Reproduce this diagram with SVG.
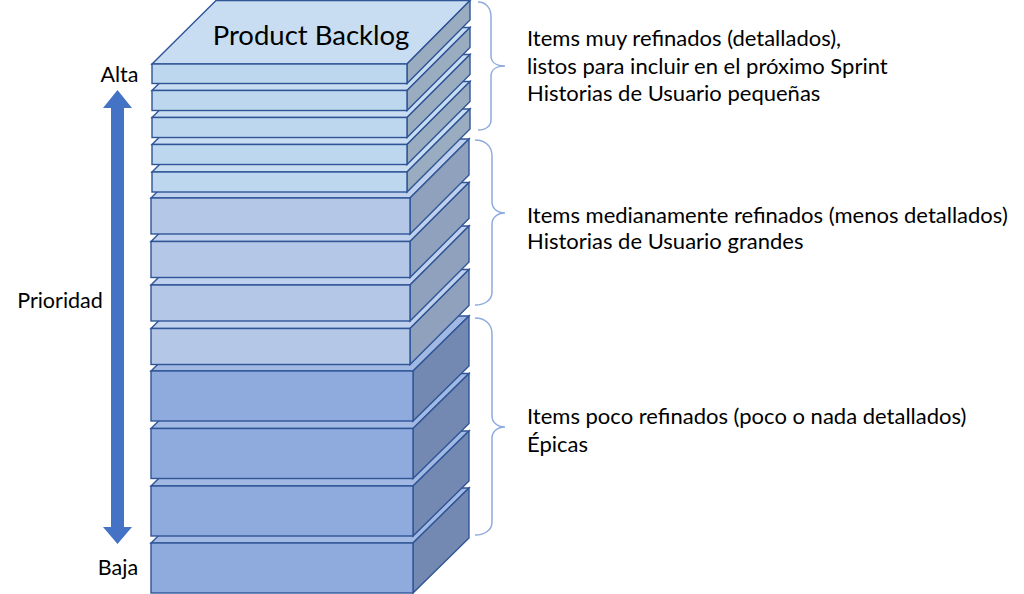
<svg xmlns="http://www.w3.org/2000/svg" width="1024" height="594" viewBox="0 0 1024 594">
<style>
.s{stroke:#2f5597;stroke-width:1.4;stroke-linejoin:miter}
.f1{fill:#bdd7ee}.t1{fill:#c8ddf2}.r1{fill:#9aacbf}
.f2{fill:#b4c7e7}.t2{fill:#c0d1ee}.r2{fill:#8fa1bc}
.f3{fill:#8faadc}.t3{fill:#a2b9e4}.r3{fill:#7489b2}
.br{fill:none;stroke:#8faadc;stroke-width:1.5}
text{font-family:Lato,"Liberation Sans",sans-serif;fill:#000}
.lbl{font-size:22px}
.side{font-size:21.5px}
</style>
<rect width="1024" height="594" fill="#fff"/>
<g id="stack">
<g id="slab13"><polygon class="s t3" points="151,543 207,488 469,488 413,543"/><polygon class="s r3" points="413,543 469,488 469,538 413,593"/><rect class="s f3" x="151" y="543" width="262" height="50"/></g>
<g id="slab12"><polygon class="s t3" points="151,486 207,431 469,431 413,486"/><polygon class="s r3" points="413,486 469,431 469,481 413,536"/><rect class="s f3" x="151" y="486" width="262" height="50"/></g>
<g id="slab11"><polygon class="s t3" points="151,428.5 207,373.5 469,373.5 413,428.5"/><polygon class="s r3" points="413,428.5 469,373.5 469,423.5 413,478.5"/><rect class="s f3" x="151" y="428.5" width="262" height="50"/></g>
<g id="slab10"><polygon class="s t3" points="151,371 207,316 469,316 413,371"/><polygon class="s r3" points="413,371 469,316 469,366 413,421"/><rect class="s f3" x="151" y="371" width="262" height="50"/></g>
<g id="slab9"><polygon class="s t2" points="151,328.5 210,269.5 469,269.5 410,328.5"/><polygon class="s r2" points="410,328.5 469,269.5 469,305.5 410,364.5"/><rect class="s f2" x="151" y="328.5" width="259" height="36"/></g>
<g id="slab8"><polygon class="s t2" points="151,285 210,226 469,226 410,285"/><polygon class="s r2" points="410,285 469,226 469,262 410,321"/><rect class="s f2" x="151" y="285" width="259" height="36"/></g>
<g id="slab7"><polygon class="s t2" points="151,241.5 210,182.5 469,182.5 410,241.5"/><polygon class="s r2" points="410,241.5 469,182.5 469,218.5 410,277.5"/><rect class="s f2" x="151" y="241.5" width="259" height="36"/></g>
<g id="slab6"><polygon class="s t2" points="151,198 210,139 469,139 410,198"/><polygon class="s r2" points="410,198 469,139 469,175 410,234"/><rect class="s f2" x="151" y="198" width="259" height="36"/></g>
<g id="slab5"><polygon class="s t1" points="152,172 215,109 470,109 407,172"/><polygon class="s r1" points="407,172 470,109 470,129 407,192"/><rect class="s f1" x="152" y="172" width="255" height="20"/></g>
<g id="slab4"><polygon class="s t1" points="152,144.5 215,81.5 470,81.5 407,144.5"/><polygon class="s r1" points="407,144.5 470,81.5 470,101.5 407,164.5"/><rect class="s f1" x="152" y="144.5" width="255" height="20"/></g>
<g id="slab3"><polygon class="s t1" points="152,117.5 215,54.5 470,54.5 407,117.5"/><polygon class="s r1" points="407,117.5 470,54.5 470,74.5 407,137.5"/><rect class="s f1" x="152" y="117.5" width="255" height="20"/></g>
<g id="slab2"><polygon class="s t1" points="152,90.5 215,27.5 470,27.5 407,90.5"/><polygon class="s r1" points="407,90.5 470,27.5 470,47.5 407,110.5"/><rect class="s f1" x="152" y="90.5" width="255" height="20"/></g>
<g id="slab1"><polygon class="s t1" points="152,64 216,0.5 470,0.5 407,64"/><polygon class="s r1" points="407,64 470,0.5 470,20 407,83.5"/><rect class="s f1" x="152" y="64" width="255" height="19.5"/>
<text x="311" y="45" text-anchor="middle" style="font-size:27.5px">Product Backlog</text></g>
</g>
<g id="priority">
<polygon fill="#4472c4" points="117.5,90 132,108 124,108 124,527 132,527 117.5,544 103,527 111,527 111,108 103,108"/>
<text class="side" x="119.5" y="82" text-anchor="middle">Alta</text>
<text class="side" x="60" y="308" text-anchor="middle">Prioridad</text>
<text class="side" x="118" y="575" text-anchor="middle">Baja</text>
</g>
<g id="connectors">
<path class="br" d="M478,2 C486,2 491,8 491,17 L491,56 C491,62 496,66 505,66 C496,66 491,70 491,76 L491,120 C491,126 486,130 478,130"/>
<path class="br" d="M475,140 C485,140 492,146 492,156 L492,202 C492,208 497,213 505,213 C497,213 492,218 492,224 L492,292 C492,300 485,305 475,305"/>
<path class="br" d="M475,318 C485,318 492,324 492,334 L492,416 C492,422 497,427 505,427 C497,427 492,432 492,438 L492,522 C492,530 485,535 475,535"/>
</g>
<g id="notes">
<text class="lbl" x="527" y="46">Items muy refinados (detallados),</text>
<text class="lbl" x="527" y="74">listos para incluir en el próximo Sprint</text>
<text class="lbl" x="527" y="101">Historias de Usuario pequeñas</text>
<text class="lbl" x="527" y="223">Items medianamente refinados (menos detallados)</text>
<text class="lbl" x="527" y="249">Historias de Usuario grandes</text>
<text class="lbl" x="527" y="424">Items poco refinados (poco o nada detallados)</text>
<text class="lbl" x="527" y="452">Épicas</text>
</g>
</svg>
